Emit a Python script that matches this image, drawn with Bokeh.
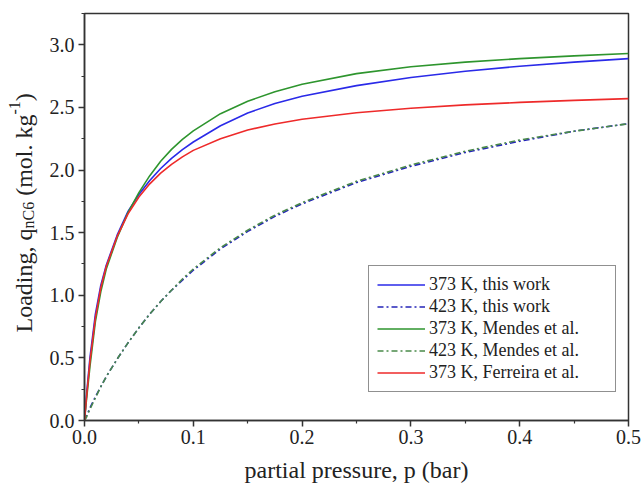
import math
from bokeh.plotting import figure
from bokeh.layouts import row
from bokeh.models import (Range1d, FixedTicker, NumeralTickFormatter, Legend,
                          LegendItem)
from bokeh.core.properties import value
from bokeh.embed import file_html
from bokeh.resources import INLINE

# ---------------- data ----------------
P = [0, 0.002, 0.005, 0.01, 0.015, 0.02, 0.03, 0.04, 0.05, 0.06, 0.07, 0.08,
     0.09, 0.1, 0.125, 0.15, 0.175, 0.2, 0.25, 0.3, 0.35, 0.4, 0.45, 0.5]

q373_this = [0, 0.22, 0.50, 0.85, 1.08, 1.24, 1.48, 1.67, 1.805, 1.917, 2.012, 2.093,
             2.163, 2.224, 2.354, 2.456, 2.531, 2.589, 2.674, 2.739, 2.789, 2.829, 2.862, 2.89]
q423_this = [0, 0.04, 0.10, 0.19, 0.27, 0.35, 0.49, 0.62, 0.74, 0.85, 0.95, 1.04,
             1.12, 1.20, 1.37, 1.51, 1.63, 1.73, 1.90, 2.03, 2.14, 2.23, 2.31, 2.37]
q373_mendes = [0, 0.18, 0.43, 0.79, 1.03, 1.21, 1.46, 1.66, 1.82, 1.955, 2.07, 2.165,
               2.245, 2.313, 2.45, 2.55, 2.625, 2.685, 2.77, 2.825, 2.862, 2.89, 2.912, 2.93]
q423_mendes = [0, 0.03, 0.09, 0.18, 0.27, 0.35, 0.49, 0.62, 0.74, 0.85, 0.95, 1.04,
               1.13, 1.21, 1.38, 1.52, 1.64, 1.74, 1.91, 2.04, 2.15, 2.24, 2.31, 2.37]
q373_ferreira = [0, 0.20, 0.47, 0.82, 1.06, 1.23, 1.47, 1.65, 1.785, 1.89, 1.975, 2.045,
                 2.105, 2.157, 2.25, 2.32, 2.368, 2.405, 2.457, 2.493, 2.52, 2.54, 2.556, 2.57]

series_labels = ["373 K, this work", "423 K, this work", "373 K, Mendes et al.",
                 "423 K, Mendes et al.", "373 K, Ferreira et al."]

x_ticks = [0.0, 0.1, 0.2, 0.3, 0.4, 0.5]
x_minor = [0.05, 0.15, 0.25, 0.35, 0.45]
y_ticks = [0.0, 0.5, 1.0, 1.5, 2.0, 2.5, 3.0]
y_minor = [0.25, 0.75, 1.25, 1.75, 2.25, 2.75, 3.25]

# y-axis title pieces: (text, role) role: main / sub / sup
ylabel_parts = [("Loading, q", "main"), ("nC6", "sub"), ("(mol. kg", "main"),
                ("-1", "sup"), (")", "main")]

# ---------------- layout ----------------
W, H = 642, 486
LW_PANEL = 44               # narrow panel that holds the y-axis title
L_B, R_B, T_B, B_B = 40, 14, 13, 66
X0, X1 = 0.0, 0.5
Y0, Y1 = 0.0, 3.25
FONT = "Liberation Serif"
INK = "#222222"

p = figure(width=W - LW_PANEL, height=H, output_backend="svg", toolbar_location=None,
           x_range=Range1d(X0, X1), y_range=Range1d(Y0, Y1),
           min_border_left=L_B, min_border_right=R_B,
           min_border_top=T_B, min_border_bottom=B_B)
p.background_fill_color = "white"
p.border_fill_color = "white"
p.outline_line_color = "#333333"
p.outline_line_width = 1.5
p.xgrid.visible = False
p.ygrid.visible = False

for ax in (p.xaxis[0], p.yaxis[0]):
    ax.axis_line_color = "#333333"
    ax.axis_line_width = 1.5
    ax.major_tick_line_color = "#333333"
    ax.minor_tick_line_color = "#333333"
    ax.major_tick_line_width = 1.5
    ax.minor_tick_line_width = 1.2
    ax.major_tick_out = 6
    ax.major_tick_in = 0
    ax.minor_tick_out = 3
    ax.minor_tick_in = 0
    ax.major_label_text_font = FONT
    ax.major_label_text_font_size = "20px"
    ax.major_label_text_color = INK
    ax.formatter = NumeralTickFormatter(format="0.0")

p.xaxis.ticker = FixedTicker(ticks=x_ticks, minor_ticks=x_minor)
p.yaxis.ticker = FixedTicker(ticks=y_ticks, minor_ticks=y_minor)
p.xaxis.major_label_standoff = 3
p.yaxis.major_label_standoff = 4

p.xaxis.axis_label = "partial pressure, p (bar)"
p.xaxis.axis_label_text_font = FONT
p.xaxis.axis_label_text_font_size = "24px"
p.xaxis.axis_label_text_font_style = "normal"
p.xaxis.axis_label_text_color = INK
p.xaxis.axis_label_standoff = 10

# ---------------- curves ----------------
BLUE = "#2a2ae8"
DBLUE = "#2424b8"
GREEN = "#2e952e"
DGREEN = "#4a8a4a"
RED = "#ee2a2a"
DASHDOT = "6 3 2 3"
LWID = 1.6

r1 = p.line(P, q373_this, line_color=BLUE, line_width=LWID)
r2 = p.line(P, q423_this, line_color=DBLUE, line_width=LWID, line_dash=DASHDOT)
r3 = p.line(P, q373_mendes, line_color=GREEN, line_width=LWID)
r4 = p.line(P, q423_mendes, line_color=DGREEN, line_width=LWID, line_dash=DASHDOT)
r5 = p.line(P, q373_ferreira, line_color=RED, line_width=LWID)

legend = Legend(items=[LegendItem(label=lab, renderers=[r])
                       for lab, r in zip(series_labels, [r1, r2, r3, r4, r5])],
                location=(284, 28))
legend.label_text_font = FONT
legend.label_text_font_size = "18px"
legend.label_text_color = INK
legend.border_line_color = INK
legend.border_line_width = 1
legend.background_fill_color = "white"
legend.background_fill_alpha = 1.0
legend.padding = 8
legend.margin = 0
legend.spacing = 1
legend.glyph_width = 48
legend.glyph_height = 21
legend.label_height = 21
legend.label_width = 178
legend.label_standoff = 4
p.add_layout(legend)

# ---------------- y-axis title panel (rotated text with sub/superscript) ----------------
# the panel's frame shares the main frame's top/bottom; its data units are page pixels
t = figure(width=LW_PANEL, height=H, output_backend="svg", toolbar_location=None,
           x_range=Range1d(0, LW_PANEL), y_range=Range1d(B_B, H - T_B),
           x_axis_type=None, y_axis_type=None,
           min_border_left=0, min_border_right=0,
           min_border_top=T_B, min_border_bottom=B_B)
t.outline_line_color = None
t.background_fill_color = "white"
t.border_fill_color = "white"
t.xgrid.visible = False
t.ygrid.visible = False

BIG, SMALL = 24, 16
EM = {"Loading, q": 4.333, "nC6": 1.667, "(mol. kg": 3.389, "-1": 0.833, ")": 0.333}
SHIFT = {"main": 0, "sub": 5, "sup": -9}
base_x = 23
cur = H - 332          # start (bottom) of the title, measured upward
for txt, role in ylabel_parts:
    size = BIG if role == "main" else SMALL
    if txt.startswith("("):
        cur += 0.25 * BIG      # the space before "("
    t.text(x=[base_x + SHIFT[role]], y=[cur], text=[txt], angle=math.pi / 2,
           text_font=value(FONT), text_font_size=value(f"{size}px"),
           text_color=INK, text_align="left", text_baseline="alphabetic")
    cur += EM[txt] * size

layout = row(t, p, spacing=0)
open("out.html", "w").write(file_html(layout, INLINE))
